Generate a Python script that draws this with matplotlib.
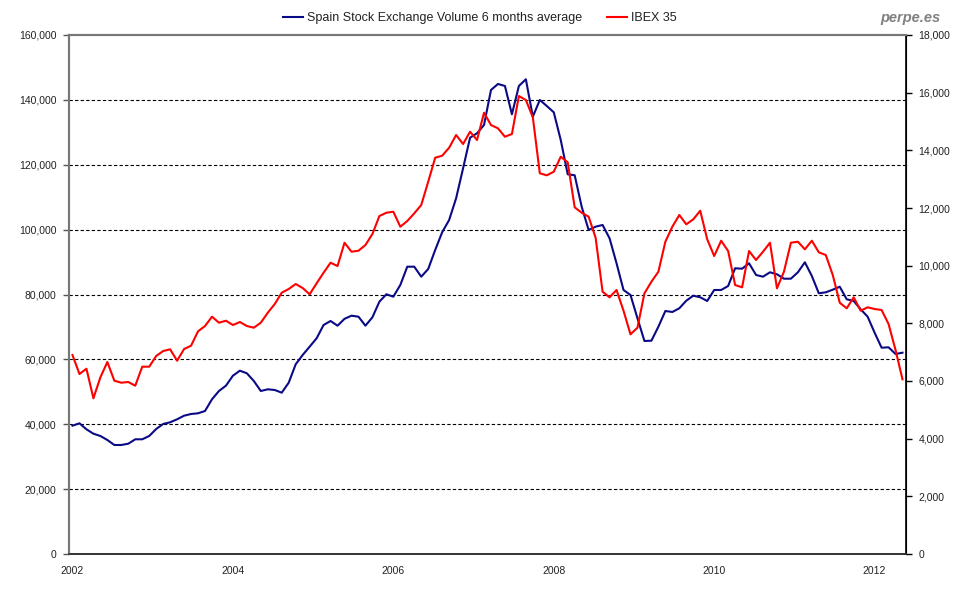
import numpy as np
import matplotlib
matplotlib.use("Agg")
import matplotlib.pyplot as plt
from matplotlib.ticker import FuncFormatter, MultipleLocator

plt.rcParams['font.family'] = ['Liberation Sans', 'DejaVu Sans']

# Spain stock exchange volume, 6 months average (left axis)
volume = [
    39555, 40295, 38445, 37089, 36379, 35146, 33605, 33605, 34005, 35362,
    35362, 36379, 38538, 40079, 40603, 41528, 42638, 43162, 43378, 44087,
    47694, 50253, 51887, 54970, 56511, 55710, 53336, 50253, 50777, 50561,
    49729, 52812, 58485, 61352, 63911, 66500, 70601, 71834, 70385, 72500,
    73468, 73160, 70385, 72975, 77784, 80066, 79326, 82933, 88575, 88575,
    85492, 87866, 93723, 99180, 102972, 109662, 118911, 128345, 129702, 132261,
    143051, 144901, 144284, 135560, 144284, 146350, 134820, 139968, 138118, 136176,
    127636, 117062, 116754, 107073, 99889, 100907, 101431, 97330, 89623, 81391,
    79850, 72666, 65668, 65760, 70076, 74917, 74609, 75749, 78092, 79635,
    79140, 78000, 81391, 81391, 82624, 88082, 87958, 89623, 86016, 85492,
    86848, 86232, 84875, 84875, 86848, 89931, 85707, 80374, 80682, 81484,
    82408, 78524, 78000, 75441, 73160, 68227, 63602, 63726, 61660, 62061,
]

# IBEX 35 index (right axis)
ibex = [
    6901, 6242, 6426, 5400, 6128, 6659, 6010, 5941, 5965, 5837,
    6496, 6496, 6867, 7040, 7099, 6704, 7109, 7224, 7723, 7907,
    8230, 8022, 8091, 7942, 8046, 7907, 7848, 8022, 8368, 8670,
    9062, 9190, 9364, 9225, 9006, 9388, 9755, 10102, 9988, 10796,
    10484, 10518, 10716, 11098, 11722, 11836, 11871, 11351, 11548, 11815,
    12103, 12911, 13744, 13813, 14091, 14531, 14219, 14645, 14358, 15304,
    14878, 14763, 14472, 14566, 15883, 15745, 15145, 13203, 13133, 13258,
    13778, 13584, 12024, 11836, 11698, 10969, 9097, 8902, 9156, 8438,
    7619, 7848, 9041, 9443, 9790, 10831, 11351, 11757, 11434, 11607,
    11906, 10914, 10335, 10865, 10508, 9329, 9249, 10508, 10196, 10484,
    10796, 9214, 9790, 10796, 10831, 10567, 10865, 10463, 10369, 9676,
    8715, 8521, 8902, 8438, 8556, 8497, 8462, 7976, 7075, 6058,
]

year_labels = ['2002', '2004', '2006', '2008', '2010', '2012']
label_step = 23

blue = '#0A0A86'
red = '#FF0000'
txt = '#222222'

x = np.arange(len(volume))

fig = plt.figure(figsize=(9.58, 5.93), dpi=100)
ax = fig.add_axes([69 / 958, 1 - 554 / 593, (906 - 69) / 958, (554 - 35) / 593])
ax2 = ax.twinx()

ax.plot(x, volume, color=blue, lw=1.5, label='Spain Stock Exchange Volume 6 months average')
ax2.plot(x, ibex, color=red, lw=1.5, label='IBEX 35')

ax.set_xlim(-0.5, len(volume) - 0.5)
ax.set_ylim(0, 160000)
ax2.set_ylim(0, 18000)

ax.yaxis.set_major_locator(MultipleLocator(20000))
ax2.yaxis.set_major_locator(MultipleLocator(2000))
fmt = FuncFormatter(lambda v, p: f'{int(v):,}')
ax.yaxis.set_major_formatter(fmt)
ax2.yaxis.set_major_formatter(fmt)

ax.set_xticks(np.arange(len(year_labels)) * label_step)
ax.set_xticklabels(year_labels)

# dashed grid from the left axis
for v in range(20000, 160000, 20000):
    ax.axhline(v, color='black', lw=0.8, ls=(0, (3, 2)), zorder=0)

ax.tick_params(axis='x', length=0, pad=9, labelsize=7.5, labelcolor=txt)
ax.tick_params(axis='y', length=4, width=1, pad=5, labelsize=7.5, labelcolor=txt, color='#555555')
ax2.tick_params(axis='y', length=4, width=1, pad=5, labelsize=7.5, labelcolor=txt, color='black')

for a in (ax, ax2):
    a.spines['top'].set_color('#777777')
    a.spines['left'].set_color('#777777')
    a.spines['top'].set_linewidth(1.5)
    a.spines['left'].set_linewidth(1.5)
    a.spines['bottom'].set_color('#333333')
    a.spines['bottom'].set_linewidth(1.2)
ax2.spines['right'].set_color('black')
ax2.spines['right'].set_linewidth(1.2)

h1, l1 = ax.get_legend_handles_labels()
h2, l2 = ax2.get_legend_handles_labels()
fig.legend(h1 + h2, l1 + l2, loc='center', bbox_to_anchor=(480 / 958, 1 - 18 / 593),
           ncol=2, frameon=False, fontsize=9, handlelength=1.6, handletextpad=0.3,
           columnspacing=2.0, labelcolor=txt)

fig.text(940 / 958, 1 - 18 / 593, 'perpe.es', ha='right', va='center', fontsize=10.5,
         fontweight='bold', fontstyle='italic', color='#808080')

fig.savefig('out.png', dpi=100)
